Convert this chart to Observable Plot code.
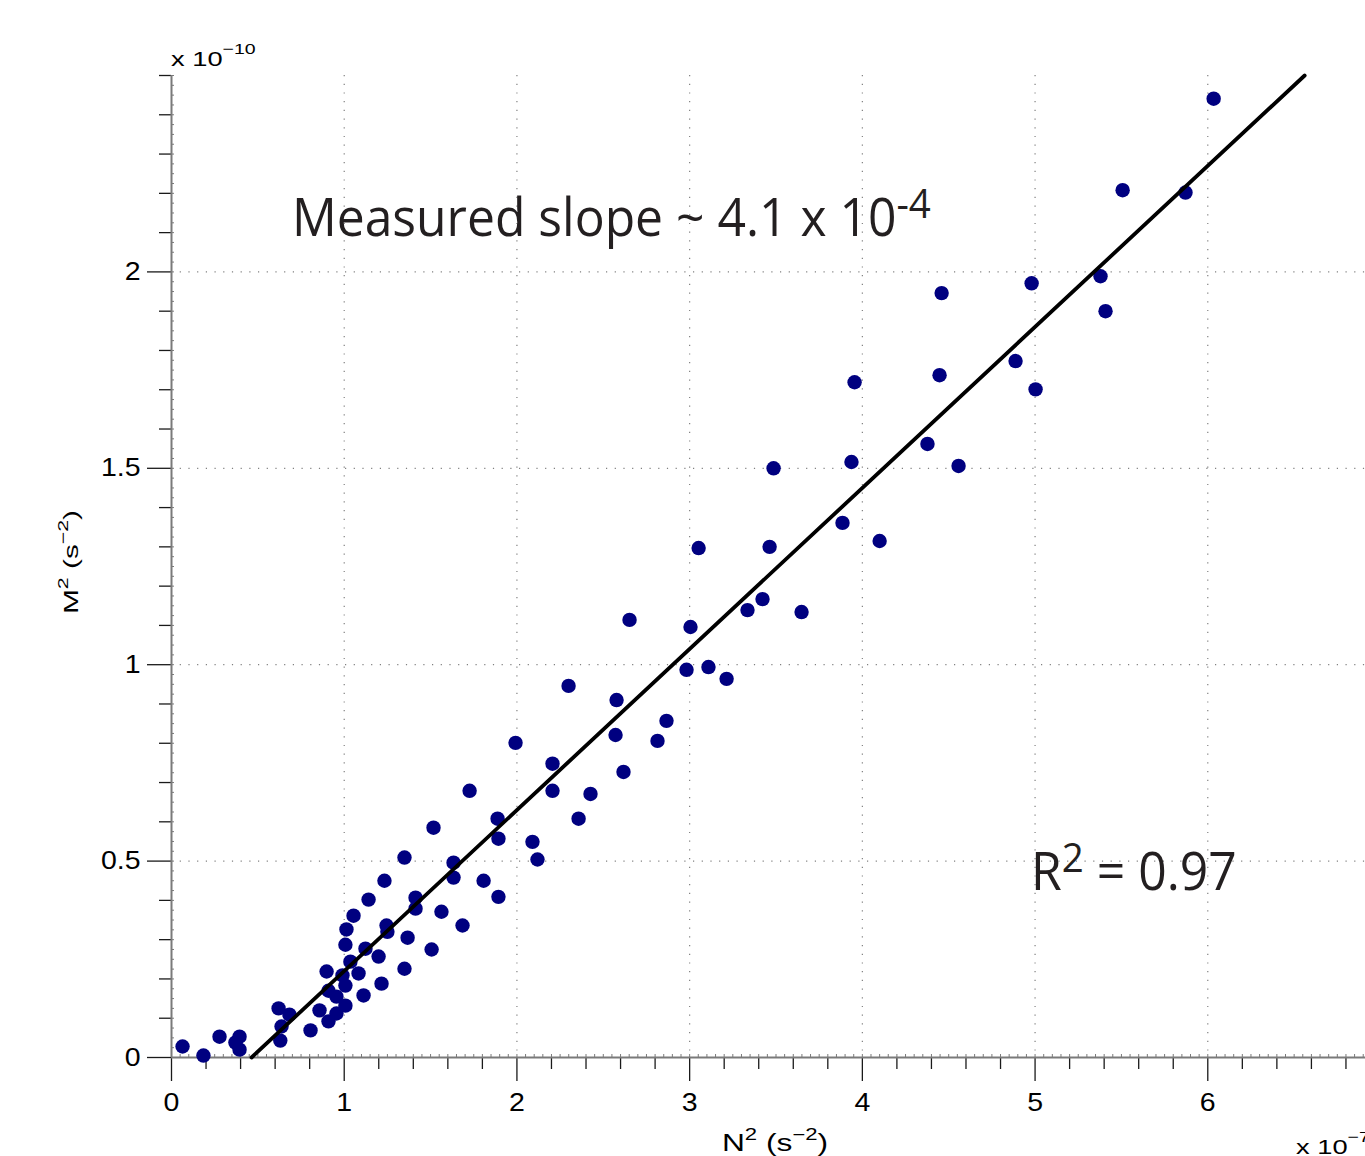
<!DOCTYPE html>
<html><head><meta charset="utf-8">
<script src="https://cdn.jsdelivr.net/npm/d3@7"></script>
<script src="https://cdn.jsdelivr.net/npm/@observablehq/plot@0.6"></script>
<style>
html,body{margin:0;padding:0;background:#fff;overflow:hidden;width:1365px;height:1156px}
#chart{position:relative;width:1365px;height:1156px;overflow:hidden}
#chart svg{max-width:none !important;display:block}
</style></head><body><div id="chart"></div>
<script>
// N^2 values (x 1e-7 s^-2)
const N2 = [0.064,0.185,0.278,0.37,0.394,0.394,0.62,0.637,0.63,0.683,0.805,0.857,0.898,0.909,0.909,0.955,0.955,0.99,1.007,1.007,1.007,1.013,1.036,1.054,1.083,1.112,1.123,1.141,1.199,1.216,1.233,1.245,1.25,1.349,1.367,1.349,1.413,1.413,1.506,1.517,1.563,1.633,1.633,1.685,1.726,1.807,1.888,1.893,1.893,1.992,2.09,2.119,2.206,2.206,2.299,2.357,2.426,2.577,2.571,2.617,2.652,2.814,2.866,2.982,3.005,3.052,3.109,3.214,3.335,3.422,3.463,3.486,3.648,3.885,3.937,3.955,4.1,4.377,4.447,4.459,4.557,4.887,4.98,5.003,5.379,5.408,5.507,5.871,6.034];
// M^2 values (x 1e-10 s^-2)
const M2 = [0.028,0.005,0.053,0.038,0.053,0.02,0.125,0.079,0.043,0.109,0.069,0.12,0.219,0.17,0.092,0.112,0.155,0.209,0.183,0.132,0.287,0.326,0.244,0.361,0.214,0.158,0.277,0.402,0.257,0.188,0.45,0.336,0.32,0.509,0.305,0.226,0.407,0.379,0.275,0.585,0.371,0.496,0.458,0.336,0.679,0.45,0.608,0.557,0.409,0.801,0.549,0.504,0.748,0.679,0.946,0.608,0.671,0.91,0.821,0.727,1.114,0.806,0.857,0.987,1.096,1.297,0.994,0.964,1.139,1.167,1.3,1.5,1.134,1.361,1.516,1.719,1.315,1.562,1.737,1.946,1.506,1.773,1.971,1.701,1.989,1.9,2.208,2.202,2.441];
// fitted line
const fitSlope = 0.41;
const fitIntercept = -0.19;
// axes
const xDomain = [0, 7];
const yDomain = [0, 2.5];
const xMajorTicks = [0, 1, 2, 3, 4, 5, 6];
const xTickLabels = ["0", "1", "2", "3", "4", "5", "6"];
const yMajorTicks = [0, 0.5, 1, 1.5, 2];
const yTickLabels = ["0", "0.5", "1", "1.5", "2"];
const xMinorStep = 0.2, yMinorStep = 0.1, xFineStep = 0.05, yFineStep = 0.025;
const slopeText = ["Measured slope ~ 4.1 x 10", "-4"];
const r2Text = ["R", "2", " = 0.97"];

const near = (a, b) => Math.abs(a - b) < 1e-6;
const xMinor = d3.range(0, 7.0001, xMinorStep).filter(v => !xMajorTicks.some(t => near(t, v)));
const yMinor = d3.range(0, 2.5001, yMinorStep).filter(v => !yMajorTicks.some(t => near(t, v)));
const xFine = d3.range(0, 7.0001, xFineStep);
const yFine = d3.range(0, 2.5001, yFineStep);

const data = N2.map((x, i) => ({x, y: M2[i]}));
const x0 = -fitIntercept / fitSlope, x1 = (yDomain[1] - fitIntercept) / fitSlope;
const fit = [x0, x1].map(x => ({x, y: fitSlope * x + fitIntercept}));

const axisGrey = "#7a7a7a";
const tickCol = "#1a1a1a";
const font = "'Liberation Sans', Arial, Helvetica, sans-serif";
const stretch = 1.14;

const plot = Plot.plot({
  width: 1390, height: 1156,
  marginLeft: 171, marginRight: 10, marginTop: 75, marginBottom: 99,
  x: {domain: xDomain, label: null},
  y: {domain: yDomain, label: null},
  style: {fontFamily: font, fontSize: "25px", color: "#000", background: "transparent", overflow: "visible"},
  marks: [
    Plot.gridX(xMajorTicks.filter(d => d > 0), {stroke: "#808080", strokeOpacity: 1, strokeWidth: 1.2, strokeDasharray: "1.2,7.5"}),
    Plot.gridY(yMajorTicks.filter(d => d > 0), {stroke: "#808080", strokeOpacity: 1, strokeWidth: 1.2, strokeDasharray: "1.2,7.5"}),
    Plot.axisX(xFine, {anchor: "bottom", tickSize: -3, text: null, stroke: axisGrey, strokeWidth: 1}),
    Plot.axisY(yFine, {anchor: "left", tickSize: -3, text: null, stroke: axisGrey, strokeWidth: 1}),
    Plot.axisX(xMinor, {anchor: "bottom", tickSize: 12, text: null, stroke: tickCol, strokeWidth: 1.3}),
    Plot.axisY(yMinor, {anchor: "left", tickSize: 12, text: null, stroke: tickCol, strokeWidth: 1.3}),
    Plot.axisX(xMajorTicks, {anchor: "bottom", tickSize: 24, tickPadding: 12, stroke: tickCol, strokeWidth: 1.3,
      tickFormat: d => xTickLabels[xMajorTicks.indexOf(d)], fontSize: 25, fill: "#000"}),
    Plot.axisY(yMajorTicks, {anchor: "left", tickSize: 24, tickPadding: 7, stroke: tickCol, strokeWidth: 1.3,
      tickFormat: d => yTickLabels[yMajorTicks.indexOf(d)], fontSize: 25, fill: "#000"}),
    Plot.ruleY([0], {stroke: axisGrey, strokeWidth: 2}),
    Plot.ruleX([0], {stroke: axisGrey, strokeWidth: 2}),
    Plot.dot(data, {x: "x", y: "y", r: 7.2, fill: "#000080", stroke: null}),
    Plot.line(fit, {x: "x", y: "y", stroke: "#000", strokeWidth: 3.8})
  ]
});
document.getElementById("chart").appendChild(plot);

// widen tick label glyphs along the text direction (as in the original figure)
d3.select(plot).selectAll('[aria-label="x-axis tick label"] text, [aria-label="y-axis tick label"] text')
  .attr("transform", function() { return (this.getAttribute("transform") || "") + ` scale(${stretch},1)`; });

const sx = plot.scale("x"), sy = plot.scale("y");
const svg = d3.select(plot);

function richText(parent, parts, {x, y, size, supSize, supShift, family, fill, anchor = "start", rotate = 0, scaleX = 1}) {
  const g = parent.append("g").attr("transform", `translate(${x},${y}) rotate(${rotate}) scale(${scaleX},1)`);
  const t = g.append("text").attr("font-family", family).attr("font-size", size).attr("fill", fill)
    .attr("text-anchor", anchor);
  let raised = false;
  parts.forEach(([s, sup]) => {
    const ts = t.append("tspan").text(s);
    if (sup && !raised) { ts.attr("dy", -supShift).attr("font-size", supSize); raised = true; }
    else if (!sup && raised) { ts.attr("dy", supShift); raised = false; }
  });
  return t;
}

// exponent labels
richText(svg, [["x 10", false], ["\u221210", true]], {x: sx.apply(0), y: 66, size: 21, supSize: 15, supShift: 12, family: font, fill: "#000", scaleX: 1.3});
richText(svg, [["x 10", false], ["\u22127", true]], {x: 1296, y: 1154, size: 21, supSize: 15, supShift: 12, family: font, fill: "#000", scaleX: 1.3});
// axis labels
richText(svg, [["N", false], ["2", true], [" (s", false], ["\u22122", true], [")", false]], {x: 775, y: 1151, size: 23, supSize: 16, supShift: 11, family: font, fill: "#000", anchor: "middle", scaleX: 1.38});
richText(svg, [["M", false], ["2", true], [" (s", false], ["\u22122", true], [")", false]], {x: 78, y: 562, size: 21, supSize: 15, supShift: 10, family: font, fill: "#000", anchor: "middle", rotate: -90, scaleX: 1.42});
// annotations
const annFont = "'Open Sans', 'Noto Sans', sans-serif";
richText(svg, [[slopeText[0], false], [slopeText[1], true]], {x: sx.apply(0.70), y: sy.apply(2.09), size: 53, supSize: 41, supShift: 18, family: annFont, fill: "#231f20", scaleX: 0.94});
richText(svg, [[r2Text[0], false], [r2Text[1], true], [r2Text[2], false]], {x: sx.apply(4.98), y: sy.apply(0.425), size: 53, supSize: 41, supShift: 18, family: annFont, fill: "#231f20", scaleX: 0.94});
</script></body></html>
